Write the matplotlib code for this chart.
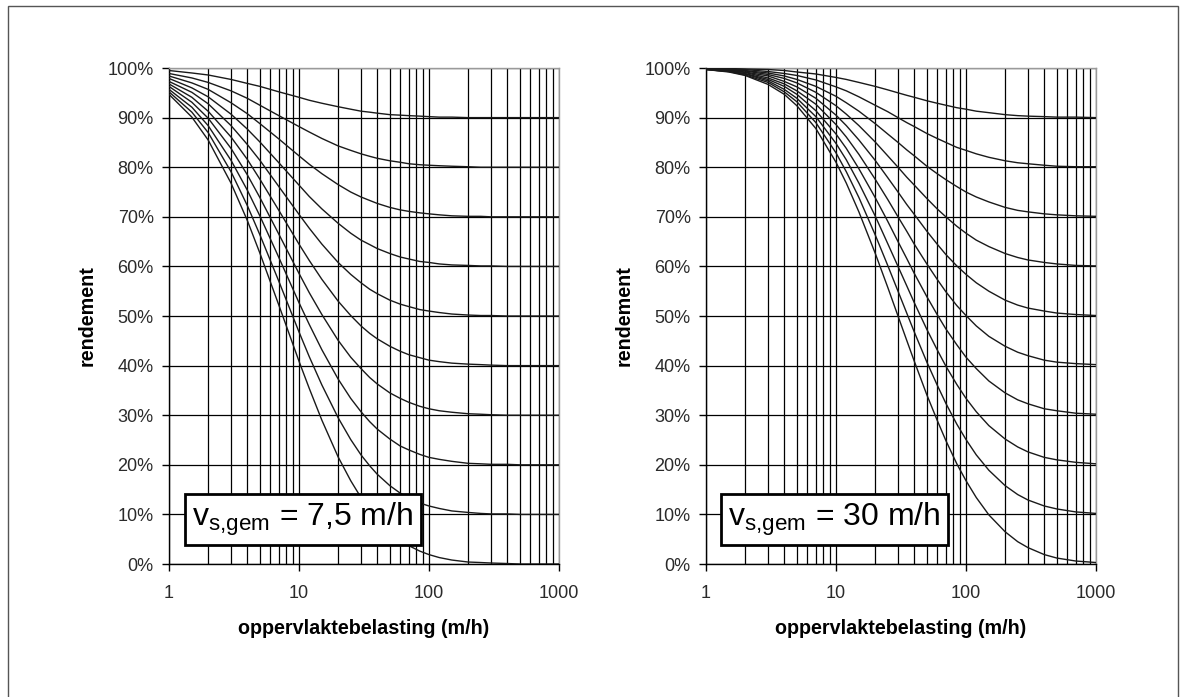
"""
Rendement van een bezinkvoorziening tegen de oppervlaktebelasting,
voor twee gemiddelde bezinksnelheden (7,5 m/h en 30 m/h).
"""

import matplotlib.pyplot as plt
from matplotlib.ticker import PercentFormatter, LogLocator

plt.rcParams["font.family"] = ["Liberation Sans", "DejaVu Sans"]

# Values: x = oppervlaktebelasting (m/h), y = rendement (%).
# One row per curve, from the top curve (ends at 90%) down to the bottom one (ends at 0%).
belasting = [1, 1.5, 2, 3, 4, 5, 7, 10, 12, 15, 20, 25, 30, 35, 40, 50, 60, 70, 85,
             100, 120, 150, 200, 250, 300, 400, 500, 700, 1000]

rendement_75 = [
    [99.5, 99.0, 98.6, 97.7, 96.9, 96.3, 95.2, 94.1, 93.5, 92.9, 92.2, 91.7, 91.3, 91.1, 90.9, 90.6, 90.5, 90.4, 90.3,
     90.2, 90.1, 90.1, 90.0, 90.0, 90.0, 90.0, 90.0, 90.0, 90.0],
    [98.9, 98.0, 97.1, 95.4, 93.9, 92.5, 90.4, 88.2, 87.1, 85.8, 84.3, 83.4, 82.7, 82.2, 81.8, 81.3, 81.0, 80.7, 80.5,
     80.4, 80.3, 80.2, 80.1, 80.0, 80.0, 80.0, 80.0, 80.0, 80.0],
    [98.4, 97.0, 95.7, 93.0, 90.8, 88.8, 85.7, 82.3, 80.6, 78.7, 76.5, 75.0, 74.0, 73.3, 72.7, 71.9, 71.4, 71.1, 70.8,
     70.6, 70.4, 70.2, 70.1, 70.1, 70.0, 70.0, 70.0, 70.0, 70.0],
    [97.9, 96.0, 94.2, 90.7, 87.7, 85.1, 80.9, 76.4, 74.1, 71.6, 68.7, 66.7, 65.3, 64.4, 63.6, 62.6, 61.9, 61.5, 61.0,
     60.8, 60.5, 60.3, 60.2, 60.1, 60.1, 60.0, 60.0, 60.0, 60.0],
    [97.3, 95.1, 92.8, 88.4, 84.6, 81.4, 76.1, 70.5, 67.7, 64.5, 60.8, 58.4, 56.7, 55.4, 54.5, 53.2, 52.4, 51.9, 51.3,
     51.0, 50.7, 50.4, 50.2, 50.1, 50.1, 50.0, 50.0, 50.0, 50.0],
    [96.8, 94.1, 91.3, 86.1, 81.6, 77.6, 71.3, 64.5, 61.2, 57.4, 53.0, 50.1, 48.0, 46.5, 45.4, 43.9, 42.9, 42.2, 41.6,
     41.1, 40.8, 40.5, 40.3, 40.2, 40.1, 40.0, 40.0, 40.0, 40.0],
    [96.3, 93.1, 89.9, 83.8, 78.5, 73.9, 66.5, 58.6, 54.7, 50.3, 45.1, 41.7, 39.4, 37.6, 36.3, 34.5, 33.4, 32.6, 31.8,
     31.3, 30.9, 30.6, 30.3, 30.2, 30.1, 30.0, 30.0, 30.0, 30.0],
    [95.7, 92.1, 88.4, 81.4, 75.4, 70.2, 61.8, 52.7, 48.3, 43.2, 37.3, 33.4, 30.7, 28.7, 27.2, 25.2, 23.8, 23.0, 22.1,
     21.5, 21.1, 20.7, 20.3, 20.2, 20.1, 20.1, 20.0, 20.0, 20.0],
    [95.2, 91.1, 87.0, 79.1, 72.3, 66.4, 57.0, 46.8, 41.8, 36.1, 29.5, 25.1, 22.0, 19.8, 18.1, 15.8, 14.3, 13.3, 12.3,
     11.7, 11.2, 10.7, 10.4, 10.2, 10.1, 10.1, 10.0, 10.0, 10.0],
    [94.7, 90.1, 85.5, 76.8, 69.3, 62.7, 52.2, 40.9, 35.4, 29.0, 21.6, 16.8, 13.4, 10.9, 9.0, 6.5, 4.8, 3.7, 2.6,
     1.9, 1.3, 0.8, 0.4, 0.3, 0.2, 0.1, 0.0, 0.0, 0.0],
]

rendement_30 = [
    [100.0, 99.9, 99.8, 99.7, 99.5, 99.2, 98.8, 98.1, 97.7, 97.1, 96.3, 95.6, 95.0, 94.5, 94.1, 93.4, 92.9, 92.5, 92.0,
     91.7, 91.3, 91.0, 90.6, 90.4, 90.3, 90.2, 90.1, 90.1, 90.0],
    [99.9, 99.8, 99.7, 99.3, 98.9, 98.5, 97.6, 96.2, 95.4, 94.2, 92.5, 91.2, 90.0, 89.0, 88.2, 86.8, 85.8, 85.0, 84.0,
     83.4, 82.7, 82.0, 81.3, 80.9, 80.7, 80.4, 80.2, 80.1, 80.1],
    [99.9, 99.8, 99.5, 99.0, 98.4, 97.7, 96.3, 94.3, 93.0, 91.3, 88.8, 86.7, 85.0, 83.5, 82.3, 80.2, 78.7, 77.5, 76.1,
     75.0, 74.0, 73.0, 71.9, 71.3, 71.0, 70.6, 70.4, 70.2, 70.1],
    [99.9, 99.7, 99.4, 98.7, 97.9, 97.0, 95.1, 92.4, 90.7, 88.4, 85.1, 82.3, 80.0, 78.0, 76.4, 73.7, 71.6, 70.0, 68.1,
     66.7, 65.3, 64.0, 62.6, 61.8, 61.3, 60.8, 60.5, 60.2, 60.1],
    [99.8, 99.6, 99.2, 98.4, 97.3, 96.2, 93.9, 90.5, 88.4, 85.5, 81.4, 77.9, 75.0, 72.5, 70.5, 67.1, 64.5, 62.4, 60.1,
     58.4, 56.7, 55.0, 53.2, 52.2, 51.6, 51.0, 50.6, 50.3, 50.1],
    [99.8, 99.5, 99.1, 98.0, 96.8, 95.4, 92.7, 88.6, 86.1, 82.6, 77.6, 73.5, 70.0, 67.1, 64.5, 60.5, 57.4, 54.9, 52.1,
     50.1, 48.0, 45.9, 43.9, 42.7, 42.0, 41.1, 40.7, 40.4, 40.2],
    [99.8, 99.4, 98.9, 97.7, 96.3, 94.7, 91.4, 86.7, 83.8, 79.7, 73.9, 69.1, 65.0, 61.6, 58.6, 53.9, 50.3, 47.4, 44.2,
     41.7, 39.4, 36.9, 34.5, 33.1, 32.3, 31.3, 30.9, 30.4, 30.2],
    [99.7, 99.3, 98.8, 97.4, 95.7, 93.9, 90.2, 84.8, 81.5, 76.8, 70.2, 64.6, 60.0, 56.1, 52.7, 47.3, 43.2, 39.9, 36.2,
     33.4, 30.7, 27.9, 25.2, 23.6, 22.6, 21.5, 21.0, 20.5, 20.2],
    [99.7, 99.3, 98.6, 97.1, 95.2, 93.2, 89.0, 82.9, 79.1, 73.9, 66.4, 60.2, 55.0, 50.6, 46.8, 40.7, 36.1, 32.4, 28.2,
     25.1, 22.0, 18.9, 15.8, 14.0, 12.9, 11.7, 11.1, 10.5, 10.2],
    [99.7, 99.2, 98.5, 96.7, 94.7, 92.4, 87.8, 81.0, 76.8, 71.0, 62.7, 55.8, 50.0, 45.1, 40.9, 34.1, 29.0, 24.9, 20.2,
     16.8, 13.4, 9.9, 6.5, 4.5, 3.3, 1.9, 1.2, 0.6, 0.3],
]

x_ticks = [1, 10, 100, 1000]
x_tick_labels = ["1", "10", "100", "1000"]
y_ticks = [0, 10, 20, 30, 40, 50, 60, 70, 80, 90, 100]

box_texts = [r"$\mathregular{v_{s{,}gem}}$ = 7,5 m/h", r"$\mathregular{v_{s{,}gem}}$ = 30 m/h"]


def draw_panel(ax, curves, box_text, box_x):
    """Draws one panel with its family of curves and the label box."""

    for curve in curves:
        ax.plot(belasting, curve, color="#1a1a1a", lw=1.0, zorder=3)

    ax.set_xscale("log")
    ax.set_xlim(1, 1000)
    ax.set_ylim(0, 100)

    ax.set_xticks(x_ticks)
    ax.set_xticklabels(x_tick_labels)
    ax.xaxis.set_minor_locator(LogLocator(base=10, subs=range(2, 10)))
    ax.set_yticks(y_ticks)
    ax.yaxis.set_major_formatter(PercentFormatter(decimals=0))

    ax.grid(True, which="both", axis="x", color="black", lw=0.9, zorder=1)
    ax.grid(True, which="major", axis="y", color="black", lw=0.9, zorder=1)
    ax.set_axisbelow(True)

    ax.tick_params(which="major", direction="out", length=5, width=1, color="black",
                   labelsize=13, labelcolor="#2a2a2a")
    ax.tick_params(axis="x", which="major", pad=10)
    ax.tick_params(axis="y", which="major", pad=6)
    ax.tick_params(which="minor", length=0)

    for side in ["left", "bottom"]:
        ax.spines[side].set_color("black")
        ax.spines[side].set_linewidth(1.0)
    for side in ["top", "right"]:
        ax.spines[side].set_color("#9a9a9a")
        ax.spines[side].set_linewidth(1.0)

    ax.set_xlabel("oppervlaktebelasting (m/h)", fontsize=14.2, fontweight="bold")
    ax.set_ylabel("rendement", fontsize=14.2, fontweight="bold")
    ax.xaxis.set_label_coords(0.5, -0.11)
    ax.yaxis.set_label_coords(-0.185, 0.5)

    ax.text(box_x, 0.089, box_text, transform=ax.transAxes, fontsize=23,
            ha="center", va="center", zorder=5,
            bbox=dict(boxstyle="square,pad=0.22", fc="white", ec="black", lw=2))


fig = plt.figure(figsize=(11.8, 6.97), dpi=100)
ax_left = fig.add_axes([0.1432, 0.1908, 0.3305, 0.7116])
ax_right = fig.add_axes([0.5983, 0.1908, 0.3305, 0.7116])

draw_panel(ax_left, rendement_75, box_texts[0], 0.344)
draw_panel(ax_right, rendement_30, box_texts[1], 0.329)

# thin frame around the whole picture
fig.patches.append(plt.Rectangle((0.0068, -0.01), 0.9915, 1.0014, transform=fig.transFigure,
                                 fill=False, ec="#555555", lw=1.0))

plt.savefig("out.png", dpi=100)
plt.close()
